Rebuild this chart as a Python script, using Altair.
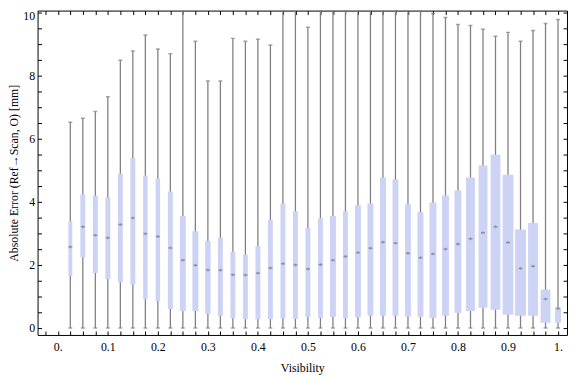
import altair as alt
import pandas as pd

visibility = [0.025, 0.05, 0.075, 0.1, 0.125, 0.15, 0.175, 0.2, 0.225, 0.25,
              0.275, 0.3, 0.325, 0.35, 0.375, 0.4, 0.425, 0.45, 0.475, 0.5,
              0.525, 0.55, 0.575, 0.6, 0.625, 0.65, 0.675, 0.7, 0.725, 0.75,
              0.775, 0.8, 0.825, 0.85, 0.875, 0.9, 0.925, 0.95, 0.975, 1.0]
w_min = [0.0] * 40
q1 = [1.64, 2.24, 1.74, 1.55, 1.45, 1.37, 0.91, 0.85, 0.60, 0.54,
      0.54, 0.45, 0.39, 0.31, 0.28, 0.28, 0.28, 0.31, 0.29, 0.35,
      0.31, 0.35, 0.31, 0.35, 0.39, 0.39, 0.39, 0.36, 0.36, 0.32,
      0.39, 0.48, 0.54, 0.64, 0.58, 0.42, 0.39, 0.39, 0.17, 0.17]
median = [2.57, 3.21, 2.94, 2.86, 3.28, 3.49, 2.99, 2.90, 2.54, 2.15,
          1.99, 1.84, 1.83, 1.69, 1.68, 1.74, 1.90, 2.04, 2.00, 1.87,
          2.01, 2.15, 2.27, 2.39, 2.53, 2.72, 2.69, 2.37, 2.23, 2.35,
          2.50, 2.66, 2.83, 3.02, 3.21, 2.71, 1.89, 1.96, 0.92, 0.62]
q3 = [3.38, 4.23, 4.19, 4.14, 4.89, 5.39, 4.83, 4.74, 4.33, 3.55,
      3.07, 2.76, 2.86, 2.42, 2.32, 2.60, 3.42, 3.95, 3.70, 3.17,
      3.48, 3.55, 3.70, 3.89, 3.95, 4.77, 4.71, 3.92, 3.67, 3.98,
      4.20, 4.36, 4.77, 5.15, 5.49, 4.86, 3.12, 3.33, 1.22, 0.66]
w_max = [6.52, 6.65, 6.86, 7.33, 8.49, 8.78, 9.29, 8.84, 8.69, 10.8,
         9.09, 7.83, 7.83, 9.18, 9.09, 9.15, 8.97, 10.35, 10.35, 9.53,
         10.8, 10.25, 10.35, 10.8, 10.8, 10.33, 10.34, 10.31, 10.25, 9.97,
         9.84, 9.62, 9.59, 9.47, 9.25, 9.37, 9.09, 9.43, 9.65, 9.78]
box_weight = [4, 5, 5, 5, 5, 5, 4.5, 4.5, 5, 6,
              6, 5.5, 5, 5, 5, 5, 5, 5, 5, 5,
              5, 6, 5, 6, 6, 6, 6, 6, 6, 7,
              7, 7, 9, 9, 10, 11, 11, 10, 10, 6]

df = pd.DataFrame({"vis": visibility, "lo": w_min, "q1": q1, "med": median,
                   "q3": q3, "hi": w_max, "w": box_weight})

FONT = "Liberation Serif, Times New Roman, serif"
xdom = [-0.0306, 1.0081]
ydom = [-0.22, 10.06]
xticks = [round(-0.025 + 0.025 * i, 3) for i in range(42)]
yticks = [0.5 * i for i in range(21)]

xs = alt.Scale(domain=xdom, nice=False, zero=False)
ys = alt.Scale(domain=ydom, nice=False, zero=False)

x_bottom = alt.Axis(orient="bottom", values=xticks, offset=-4, tickSize=4, tickColor="black",
                    tickWidth=1, domain=False, grid=False, labelFont=FONT, labelFontSize=12,
                    labelColor="black", labelPadding=7, labelOverlap=False,
                    labelExpr="round(datum.value*40) % 4 == 0 ? (datum.value == 0 ? '0.' : (datum.value == 1 ? '1.' : format(datum.value, '.1f'))) : ''",
                    title="Visibility", titleFont=FONT, titleFontSize=12, titleFontWeight="normal",
                    titleColor="black", titlePadding=10)
y_left = alt.Axis(orient="left", values=yticks, offset=-4, tickSize=4, tickColor="black",
                  tickWidth=1, domain=False, grid=False, labelFont=FONT, labelFontSize=12,
                  labelColor="black", labelPadding=3, labelOverlap=False,
                  labelOffset={"condition": {"test": "datum.value == 10", "value": 3}, "value": 0},
                  labelExpr="datum.value % 2 == 0 ? format(datum.value, 'd') : ''",
                  title="Absolute Error (Ref→Scan, O) [mm]", titleFont=FONT, titleFontSize=12,
                  titleFontWeight="normal", titleColor="black", titlePadding=2)
x_top = alt.Axis(orient="top", values=xticks, offset=-4, tickSize=4, tickColor="black",
                 tickWidth=1, domain=False, grid=False, labels=False, title=None)
y_right = alt.Axis(orient="right", values=yticks, offset=-4, tickSize=4, tickColor="black",
                   tickWidth=1, domain=False, grid=False, labels=False, title=None)

base = alt.Chart(df)

whiskers = base.mark_rule(color="#808080", strokeWidth=1.3, clip=True).encode(
    x=alt.X("vis:Q", scale=xs, axis=x_bottom),
    y=alt.Y("lo:Q", scale=ys, axis=y_left),
    y2="hi:Q",
)

caps_hi = base.mark_tick(orient="horizontal", color="#808080", size=4, thickness=1.5, clip=True).encode(
    x=alt.X("vis:Q", scale=xs, axis=x_top),
    y=alt.Y("hi:Q", scale=ys, axis=y_right),
)
caps_lo = base.mark_tick(orient="horizontal", color="#808080", size=4, thickness=1.5, clip=True).encode(
    x=alt.X("vis:Q", scale=xs, axis=None),
    y=alt.Y("lo:Q", scale=ys, axis=None),
)

boxes = base.mark_bar(color="#ccd3f5", clip=True).encode(
    x=alt.X("vis:Q", scale=xs, axis=None),
    y=alt.Y("q1:Q", scale=ys, axis=None),
    y2="q3:Q",
    size=alt.Size("w:Q", scale=alt.Scale(domain=[0, 11], range=[0, 11]), legend=None),
)

med_h = base.mark_tick(orient="horizontal", color="#767676", size=4, thickness=1.5).encode(
    x=alt.X("vis:Q", scale=xs, axis=None),
    y=alt.Y("med:Q", scale=ys, axis=None),
)
med_v = base.mark_tick(orient="vertical", color="#8a8a8a", size=3, thickness=1).encode(
    x=alt.X("vis:Q", scale=xs, axis=None),
    y=alt.Y("med:Q", scale=ys, axis=None),
)

chart = alt.layer(whiskers, caps_hi, caps_lo, boxes, med_h, med_v).properties(
    width=537, height=329,
    autosize=alt.AutoSizeParams(type="none"),
    padding={"left": 30, "top": 0, "right": 1, "bottom": 40},
    background="white",
).configure_view(stroke="black", strokeWidth=1)

chart.save("out.html", embed_options={"renderer": "svg", "actions": False})
